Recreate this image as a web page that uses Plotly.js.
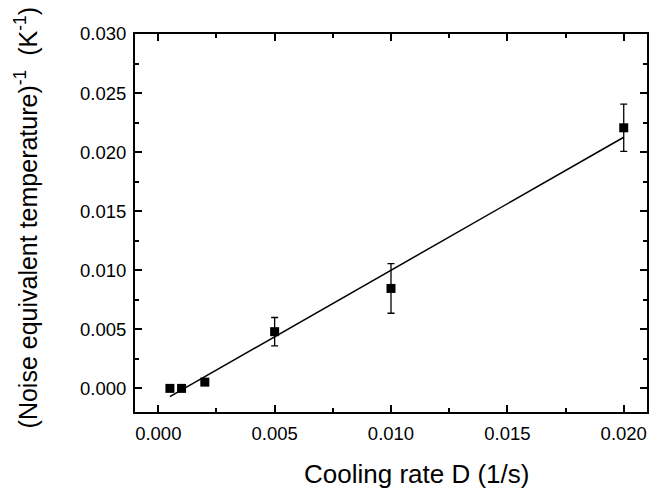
<!DOCTYPE html>
<html><head><meta charset="utf-8">
<script src="https://cdn.plot.ly/plotly-3.0.1.min.js"></script>
<style>html,body{margin:0;padding:0;background:#fff}#c{width:668px;height:489px}</style>
</head><body><div id="c"></div>
<script>
const coolingRate = [0.0005, 0.001, 0.002, 0.005, 0.010, 0.020];
const invNET = [0.0000, 0.0000, 0.00053, 0.0048, 0.00846, 0.02206];
const invNETErr = [0.0001, 0.0001, 0.0001, 0.0012, 0.0021, 0.0020];
const fitX = [0.0005, 0.020];
const fitY = [-0.0007, 0.02126];
const xTitle = 'Cooling rate D (1/s)';
const yTitle = '(Noise equivalent temperature)<sup>-1</sup>  (K<sup>-1</sup>)';

const font = "Liberation Sans, Arial, sans-serif";
const data = [
  {x: fitX, y: fitY, mode: 'lines', line: {color: '#000', width: 1.5}, hoverinfo: 'skip'},
  {x: coolingRate, y: invNET, mode: 'markers',
   marker: {symbol: 'square', size: 9, color: '#000'},
   error_y: {type: 'data', array: invNETErr, visible: true, color: '#000', thickness: 1.3, width: 3.5}}
];
const axisCommon = {
  showgrid: false, zeroline: false, showline: true, linecolor: '#000', linewidth: 2,
  mirror: 'allticks', ticks: 'inside', ticklen: 7, tickwidth: 2, tickcolor: '#000',
  tickformat: '.3f', tickfont: {family: font, size: 18.5, color: '#000'},
  minor: {ticks: 'inside', ticklen: 4, tickwidth: 2, tickcolor: '#000', dtick: 0.0025}
};
const layout = {
  width: 668, height: 489, showlegend: false,
  paper_bgcolor: '#fff', plot_bgcolor: '#fff',
  margin: {l: 135, r: 21, t: 34, b: 77},
  xaxis: Object.assign({}, axisCommon, {
    range: [-0.001, 0.021], dtick: 0.005, tick0: 0, ticklabelstandoff: 4
  }),
  yaxis: Object.assign({}, axisCommon, {
    range: [-0.002, 0.030], dtick: 0.005, tick0: 0, ticklabelstandoff: 3
  }),
  annotations: [
    {text: xTitle, xref: 'paper', yref: 'paper', x: 0.5498, y: -0.165, xanchor: 'center', yanchor: 'middle',
     showarrow: false, font: {family: font, size: 26, color: '#000'}},
    {text: yTitle, xref: 'paper', yref: 'paper', x: -0.211, y: 0.5146, xanchor: 'center', yanchor: 'middle',
     textangle: -90, showarrow: false, font: {family: font, size: 25, color: '#000'}}
  ]
};
Plotly.newPlot('c', data, layout, {staticPlot: true});
</script></body></html>
